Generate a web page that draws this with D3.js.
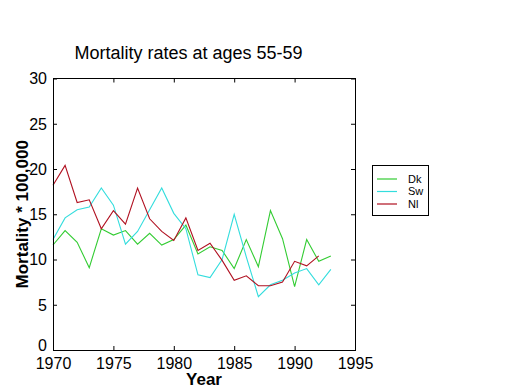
<!DOCTYPE html>
<html><head><meta charset="utf-8">
<script src="https://cdn.jsdelivr.net/npm/d3@7"></script>
<style>
body{margin:0;background:#fff;}
svg{display:block;}
text{font-family:"Liberation Sans",Arial,sans-serif;fill:#000;}
.tick{font-family:"Liberation Sans Narrow","Liberation Sans",Arial,sans-serif;font-size:16px;}
</style></head>
<body><svg id="c" width="520" height="390"></svg>
<script>
const years = [1970,1971,1972,1973,1974,1975,1976,1977,1978,1979,1980,1981,1982,1983,1984,1985,1986,1987,1988,1989,1990,1991,1992,1993];
const dk = [11.6,13.2,11.9,9.1,13.4,12.7,13.2,11.7,12.9,11.6,12.2,13.8,10.6,11.4,11.0,9.0,12.2,9.2,15.4,12.3,7.0,12.2,9.8,10.4];
const sw = [12.2,14.6,15.5,15.8,17.9,16.0,11.7,13.1,15.5,17.9,15.1,13.4,8.3,8.0,10.0,15.0,10.3,5.9,7.2,7.7,8.5,9.0,7.2,8.9];
const nl = [18.2,20.4,16.3,16.6,13.4,15.4,13.9,17.9,14.5,13.1,12.1,14.6,11.0,11.8,9.9,7.7,8.2,7.1,7.1,7.5,9.8,9.3,10.4,null];
const xTicks = [1970,1975,1980,1985,1990,1995];
const yTicks = [0,5,10,15,20,25,30];
const seriesNames = ["Dk","Sw","Nl"];
const seriesColors = ["#33cc33","#33dddd","#b01020"];
const title = "Mortality rates at ages 55-59";
const xLabel = "Year";
const yLabel = "Mortality * 100,000";

const svg = d3.select("#c");
const L=53,R=355,T=78.5,B=350;
const x = d3.scaleLinear().domain([1970,1995]).range([L,R]);
const y = d3.scaleLinear().domain([0,30]).range([B,T]);

const series = [dk,sw,nl];
const line = d3.line().defined(d=>d[1]!=null).x(d=>x(d[0])).y(d=>y(d[1]));
series.forEach((s,i)=>{
  svg.append("path").datum(years.map((yr,j)=>[yr,s[j]]))
    .attr("d",line).attr("fill","none").attr("stroke",seriesColors[i]).attr("stroke-width",1.1);
});

// axes
const gB = svg.append("g").attr("class","tick").attr("transform",`translate(0,${B})`)
  .call(d3.axisBottom(x).tickValues(xTicks).tickFormat(d3.format("d")).tickSizeInner(-4).tickSizeOuter(0).tickPadding(6));
const gT = svg.append("g").attr("transform",`translate(0,${T})`)
  .call(d3.axisTop(x).tickValues(xTicks).tickFormat("").tickSizeInner(-4).tickSizeOuter(0));
const gL = svg.append("g").attr("class","tick").attr("transform",`translate(${L},0)`)
  .call(d3.axisLeft(y).tickValues(yTicks).tickSizeInner(-4).tickSizeOuter(0).tickPadding(6));
const gR = svg.append("g").attr("transform",`translate(${R},0)`)
  .call(d3.axisRight(y).tickValues(yTicks).tickFormat("").tickSizeInner(-4).tickSizeOuter(0));
[gB,gT,gL,gR].forEach(g=>{
  g.select(".domain").remove();
  g.selectAll("line").attr("stroke","#000");
  g.selectAll("text").attr("font-family",null).attr("font-size",null).attr("fill","#000");
});
gB.selectAll("text").attr("dy",null).attr("y",19);
gL.selectAll("text").attr("dy",d=>d===0?"0.02em":"0.33em");
svg.append("rect").attr("x",L).attr("y",T).attr("width",R-L).attr("height",B-T)
  .attr("fill","none").attr("stroke","#000").attr("stroke-width",1).attr("shape-rendering","crispEdges");

svg.append("text").attr("x",188.5).attr("y",59).attr("text-anchor","middle")
  .attr("font-size",18).text(title);
svg.append("text").attr("x",204).attr("y",385).attr("text-anchor","middle")
  .attr("font-size",17).attr("font-weight","bold").text(xLabel);
svg.append("text").attr("transform",`translate(28,${(T+B)/2}) rotate(-90)`).attr("text-anchor","middle")
  .attr("font-size",17).attr("font-weight","bold").text(yLabel);

// legend
svg.append("rect").attr("x",372.5).attr("y",165.5).attr("width",56).attr("height",50)
  .attr("fill","#fff").attr("stroke","#000").attr("stroke-width",1);
seriesNames.forEach((n,i)=>{
  const yy = 179 + i*12.5;
  svg.append("line").attr("x1",377).attr("x2",397).attr("y1",yy).attr("y2",yy)
    .attr("stroke",seriesColors[i]).attr("stroke-width",1.2);
  svg.append("text").attr("x",408).attr("y",yy).attr("dy","0.36em")
    .attr("font-size",11).text(n);
});
</script></body></html>
